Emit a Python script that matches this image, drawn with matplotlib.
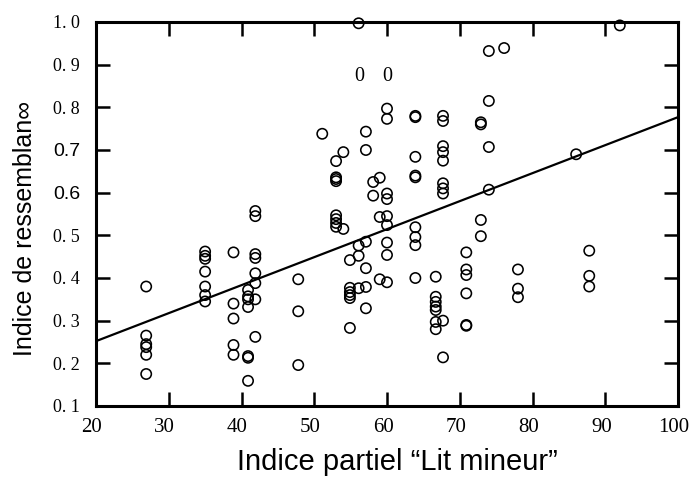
import matplotlib.pyplot as plt
import matplotlib.transforms as mtransforms

# Colonnes de points (x = indice partiel "Lit mineur", y = indice de ressemblance)
x_27 = [0.38, 0.265, 0.245, 0.238, 0.22, 0.175]
x_35 = [0.462, 0.452, 0.445, 0.415, 0.38, 0.36, 0.345]
x_39 = [0.46, 0.34, 0.305, 0.243, 0.22]
x_41 = [0.372, 0.357, 0.35, 0.332, 0.217, 0.213, 0.159]
x_42 = [0.557, 0.545, 0.456, 0.447, 0.411, 0.388, 0.35, 0.262]
x_48 = [0.397, 0.322, 0.196]
x_51 = [0.738]
x_53 = [0.674, 0.636, 0.632, 0.627, 0.547, 0.538, 0.529, 0.52]
x_54 = [0.695, 0.515]
x_55 = [0.442, 0.377, 0.367, 0.36, 0.353, 0.283]
x_56 = [0.997, 0.476, 0.452, 0.376]
x_57 = [0.743, 0.70, 0.485, 0.423, 0.379, 0.329]
x_58 = [0.625, 0.593]
x_59 = [0.635, 0.543, 0.397]
x_60 = [0.797, 0.773, 0.598, 0.585, 0.545, 0.524, 0.483, 0.454, 0.39]
x_64 = [0.78, 0.777, 0.684, 0.64, 0.636, 0.519, 0.496, 0.477, 0.40]
x_67 = [0.403, 0.356, 0.344, 0.333, 0.325, 0.297, 0.28]
x_68 = [0.78, 0.768, 0.709, 0.695, 0.675, 0.622, 0.61, 0.598, 0.30, 0.214]
x_71 = [0.46, 0.42, 0.407, 0.364, 0.29, 0.288]
x_73 = [0.765, 0.76, 0.536, 0.498]
x_74 = [0.932, 0.815, 0.707, 0.607]
x_76 = [0.939]
x_78 = [0.42, 0.375, 0.355]
x_86 = [0.69]
x_88 = [0.464, 0.405, 0.38]
x_92 = [0.992]

columns = {26.9: x_27, 35.0: x_35, 38.9: x_39, 40.9: x_41, 41.9: x_42,
           47.8: x_48, 51.1: x_51, 53.0: x_53, 54.0: x_54, 54.9: x_55,
           56.1: x_56, 57.1: x_57, 58.1: x_58, 59.0: x_59, 60.0: x_60,
           63.9: x_64, 66.7: x_67, 67.7: x_68, 70.9: x_71, 72.9: x_73,
           74.0: x_74, 76.1: x_76, 78.0: x_78, 86.0: x_86, 87.8: x_88,
           92.0: x_92}

# Droite de régression
line_x = [20, 100]
line_y = [0.252, 0.777]

x_ticks = [20, 30, 40, 50, 60, 70, 80, 90, 100]
y_ticks = [0.1, 0.2, 0.3, 0.4, 0.5, 0.6, 0.7, 0.8, 0.9, 1.0]
y_ticklabels = ['0. 1', '0. 2', '0. 3', '0. 4', '0. 5', '0.6', '0.7', '0. 8', '0. 9', '1. 0']

xs, ys = [], []
for xv, vals in columns.items():
    xs += [xv] * len(vals)
    ys += vals

fig = plt.figure(figsize=(6.9, 4.79), dpi=100)
ax = fig.add_axes([96 / 690, 1 - 406 / 479, 582 / 690, 384 / 479])

ax.plot(line_x, line_y, color='black', linewidth=1.6, zorder=2)
ax.scatter(xs, ys, s=55, facecolors='none', edgecolors='black',
           linewidths=1.15, zorder=3, clip_on=False)

# les "0" parasites du document scanné
ax.text(56.15, 0.873, '0', fontsize=14.5, family='Liberation Serif', ha='center', va='center')
ax.text(60.1, 0.873, '0', fontsize=14.5, family='Liberation Serif', ha='center', va='center')

ax.set_xlim(20, 100)
ax.set_ylim(0.1, 1.0)
ax.set_xticks(x_ticks)
ax.set_xticklabels([str(t) for t in x_ticks], family='Liberation Serif', fontsize=15)
ax.set_yticks(y_ticks)
ax.set_yticklabels(y_ticklabels, family='Liberation Serif', fontsize=13)
for lab in ax.get_yticklabels():
    if lab.get_text() in ('0.6', '0.7'):
        lab.set_family('Liberation Sans')
        lab.set_fontsize(14)

ax.tick_params(direction='in', length=10, width=1.8, top=True, right=True)
ax.tick_params(axis='x', pad=8.5)
ax.tick_params(axis='y', pad=11.5)
for sp in ax.spines.values():
    sp.set_linewidth(2.2)

# les chiffres de l'axe x sont un peu décalés vers la gauche dans l'original
shift = mtransforms.ScaledTranslation(-4 / 100, 0, fig.dpi_scale_trans)
for lab in ax.get_xticklabels():
    lab.set_transform(lab.get_transform() + shift)

fig.text(397 / 690, 1 - 462 / 479, 'Indice partiel “Lit mineur”',
         family='Liberation Sans', fontsize=21, ha='center', va='center')
fig.text(25 / 690, 1 - 228 / 479, 'Indice de ressemblan∞', rotation=90,
         family=['Liberation Sans', 'DejaVu Sans'], fontsize=18, ha='center', va='center')

plt.savefig('out.png', dpi=100)
